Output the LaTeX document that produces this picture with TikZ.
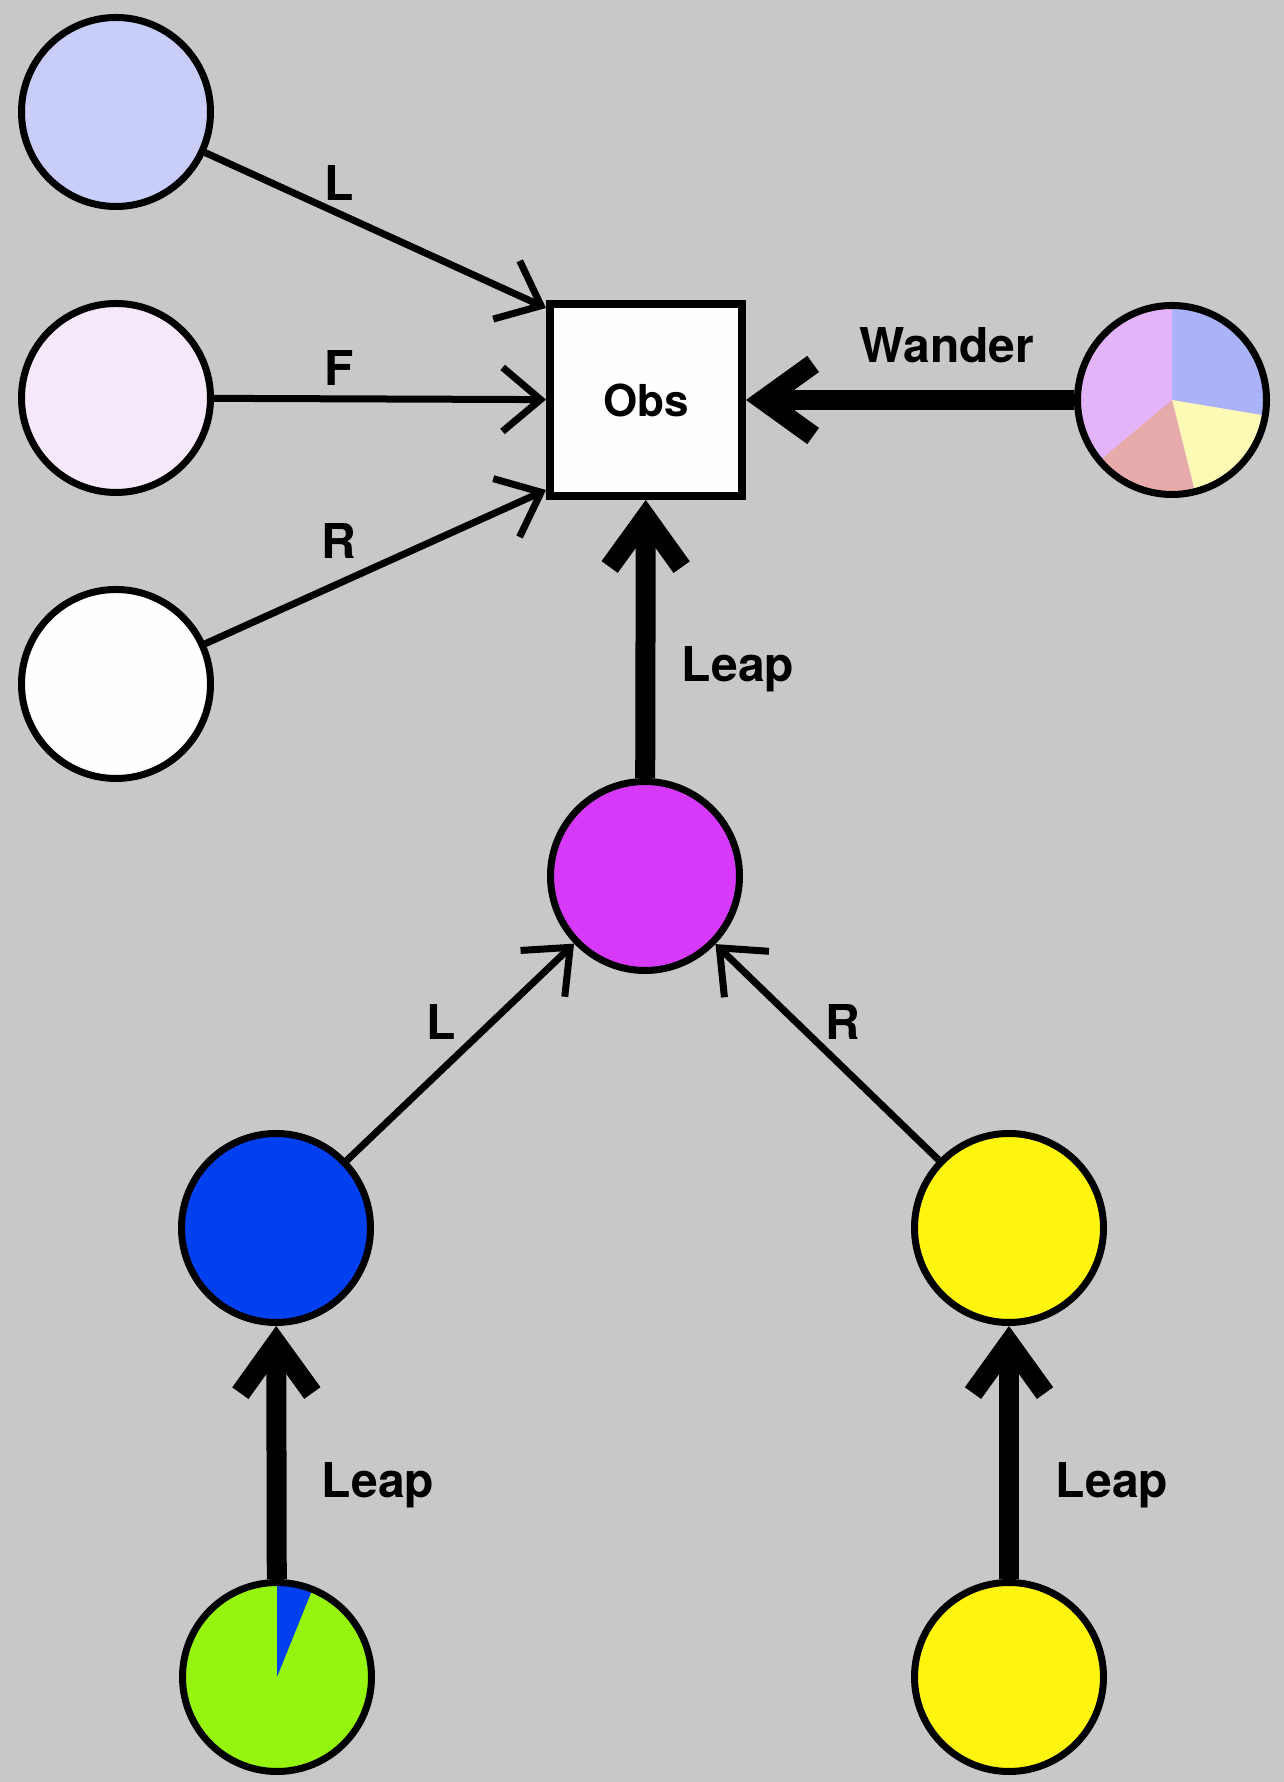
\documentclass[tikz,border=0pt]{standalone}
\usepackage{fontspec}
\setsansfont{TeX Gyre Heros}
\usepackage{tikz}
\usetikzlibrary{arrows.meta, positioning}

\definecolor{bggray}{RGB}{200,200,200}
\definecolor{paleblue}{RGB}{200,205,250}
\definecolor{palelilac}{RGB}{244,232,250}
\definecolor{offwhite}{RGB}{254,254,254}
\definecolor{magentanode}{RGB}{214,58,248}
\definecolor{bluenode}{RGB}{0,64,240}
\definecolor{yellownode}{RGB}{255,245,15}
\definecolor{limenode}{RGB}{150,245,15}
\definecolor{wblue}{RGB}{170,178,250}
\definecolor{wyellow}{RGB}{252,250,180}
\definecolor{wsalmon}{RGB}{230,170,170}
\definecolor{wlilac}{RGB}{228,180,250}

\begin{document}
\begin{tikzpicture}[x=0.5pt, y=0.5pt,
    state/.style={circle, draw, line width=3.5pt, minimum size=94.5pt, inner sep=0pt},
    obsbox/.style={rectangle, draw, line width=4pt, fill=offwhite, minimum size=96pt,
      font=\sffamily\bfseries\fontsize{22}{26}\selectfont},
    lab/.style={font=\sffamily\bfseries\fontsize{24}{28}\selectfont, inner sep=0pt, anchor=base},
    feed/.style={line width=3.5pt, -{Straight Barb[length=19pt, width=32pt]}},
    leap/.style={line width=10pt, -{Straight Barb[length=25pt, width=36pt]}}
  ]
  \fill[bggray] (0,0) rectangle (1284,1782);
  \useasboundingbox (0,0) rectangle (1284,1782);

  % sources on the left
  \node[state, fill=paleblue]  (lsrc) at (116,1670) {};
  \node[state, fill=palelilac] (fsrc) at (116,1384) {};
  \node[state, fill=offwhite]  (rsrc) at (116,1098) {};

  \node[obsbox] (obs) at (646,1382) {Obs};

  % mixture on the right
  \node[state, fill=wlilac, path picture={
      \fill[wblue] (path picture bounding box.center) -- ++(90:60pt)
        arc[start angle=90, end angle=-9.5, radius=60pt] -- cycle;
      \fill[wyellow] (path picture bounding box.center) -- ++(-9.5:60pt)
        arc[start angle=-9.5, end angle=-76, radius=60pt] -- cycle;
      \fill[wsalmon] (path picture bounding box.center) -- ++(-76:60pt)
        arc[start angle=-76, end angle=-140, radius=60pt] -- cycle;
    }] (wander) at (1172,1382) {};

  \node[state, fill=magentanode] (mid) at (645,906) {};
  \node[state, fill=bluenode]    (lchild) at (276,554) {};
  \node[state, fill=yellownode]  (rchild) at (1009,554) {};

  \node[state, fill=limenode, path picture={
      \fill[bluenode] (path picture bounding box.center) -- ++(90:60pt)
        arc[start angle=90, end angle=68, radius=60pt] -- cycle;
    }] (lleaf) at (277,105) {};
  \node[state, fill=yellownode] (rleaf) at (1009,105) {};

  % edges
  \draw[feed] (lsrc) -- ([yshift=-4pt]obs.north west);
  \draw[feed] (fsrc) -- (obs);
  \draw[feed] (rsrc) -- ([yshift=5pt]obs.south west);
  \draw[leap] (wander) -- (obs);
  \draw[leap] (mid) -- (obs);
  \draw[feed] (lchild) -- (mid);
  \draw[feed] (rchild) -- (mid);
  \draw[leap] (lleaf) -- (lchild);
  \draw[leap] (rleaf) -- (rchild);

  % labels
  \node[lab] (t-l)  at (339,1581) {L};
  \node[lab] (t-f)  at (339,1396) {F};
  \node[lab] (t-r)  at (339,1223) {R};
  \node[lab] (t-w)  at (947,1419) {Wander};
  \node[lab] (t-lp) at (738,1100) {Leap};
  \node[lab] (t-cl) at (441,742) {L};
  \node[lab] (t-cr) at (843,742) {R};
  \node[lab] (t-ll) at (378,284) {Leap};
  \node[lab] (t-lr) at (1112,284) {Leap};
\end{tikzpicture}
\end{document}
